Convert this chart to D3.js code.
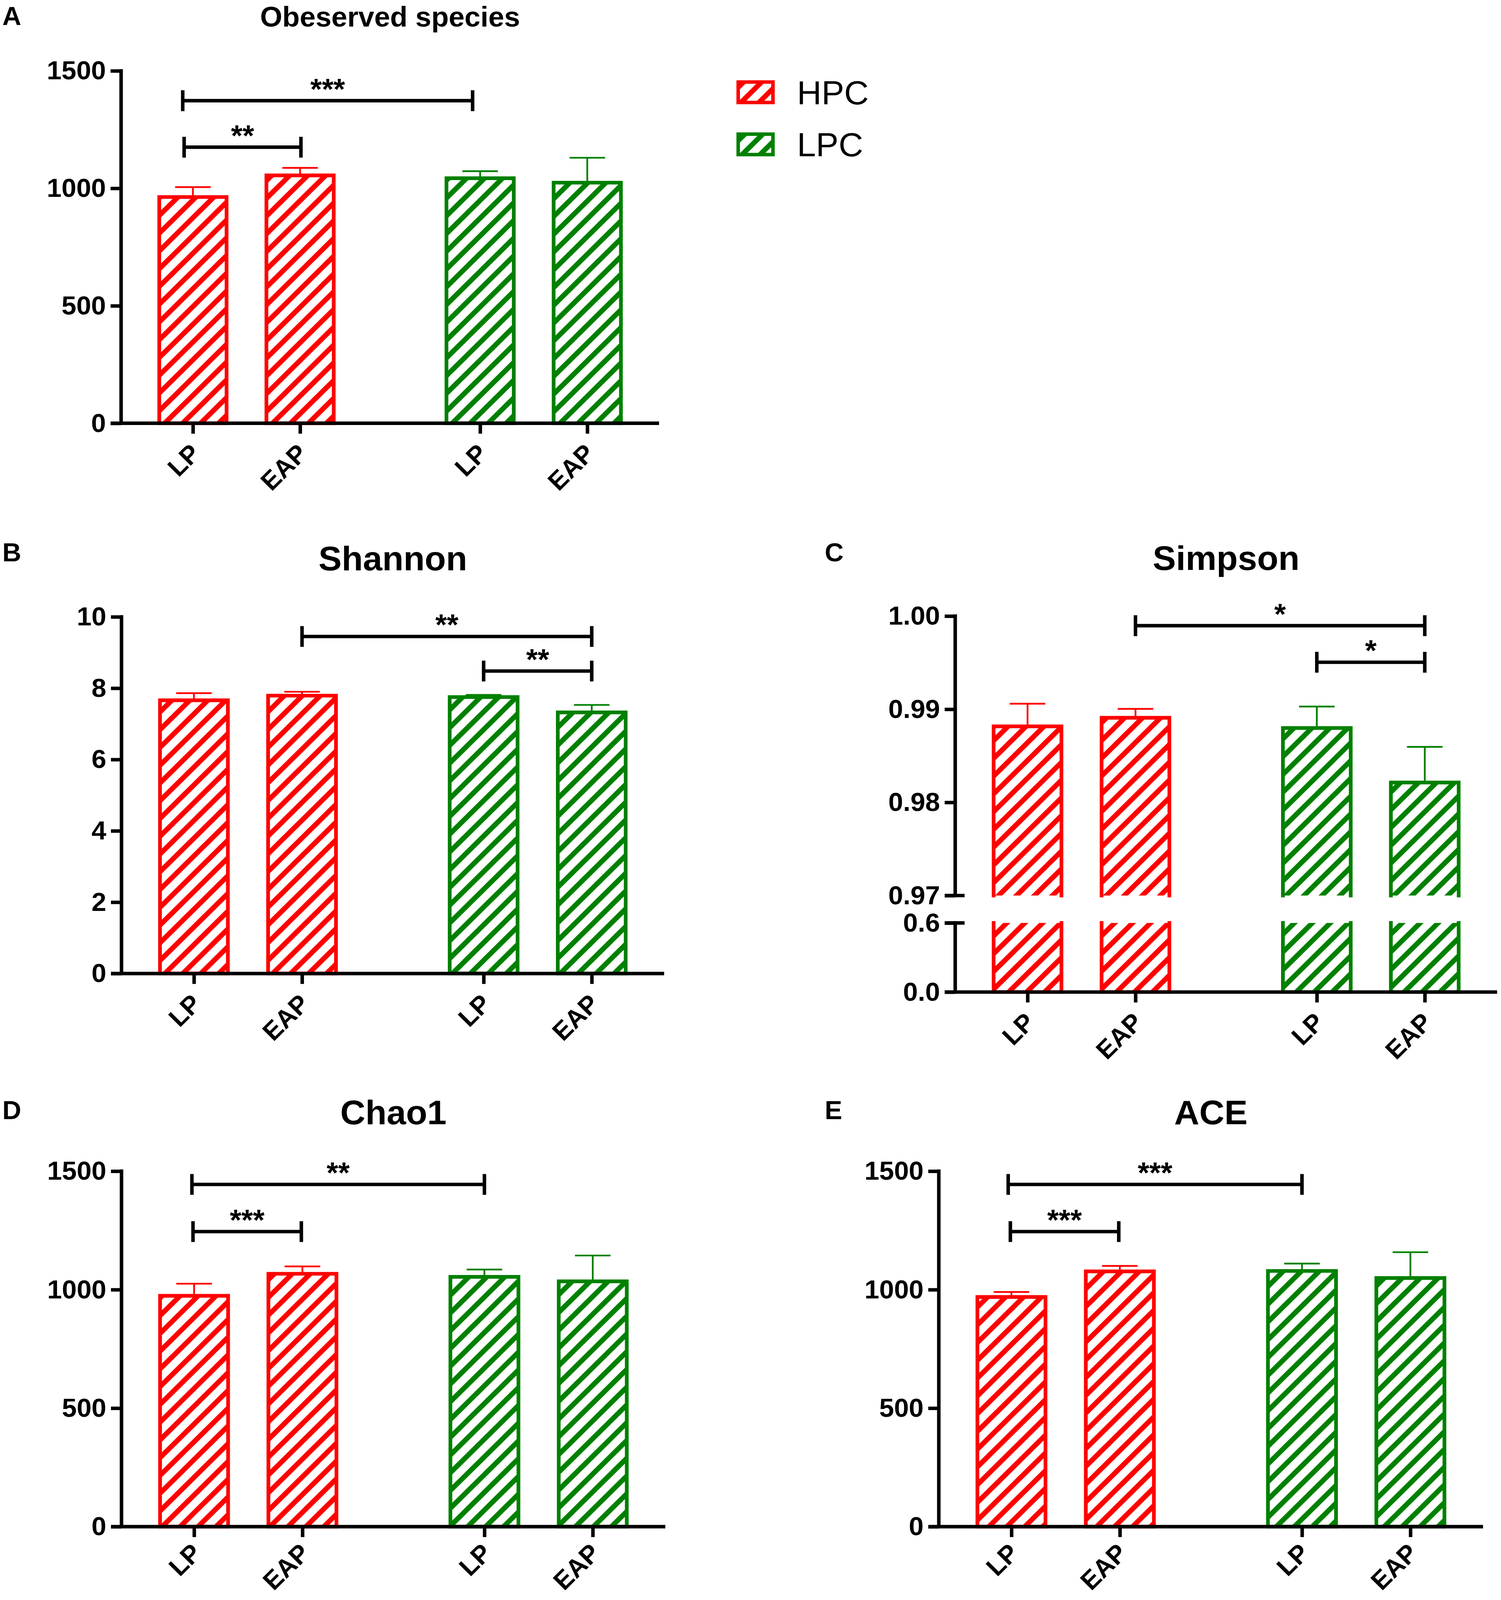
<!DOCTYPE html>
<html>
<head>
<meta charset="utf-8">
<script src="https://cdn.jsdelivr.net/npm/d3@7/dist/d3.min.js"></script>
<style>
html, body { margin: 0; padding: 0; background: #fff; overflow: hidden; }
svg { display: block; width: 100vw; height: 100vh; }
text { font-family: "Liberation Sans", Arial, sans-serif; }
</style>
</head>
<body>
<script>
// ---- data ----
var groups = ["HPC", "LPC"];
var xLabels = ["LP", "EAP", "LP", "EAP"];
var barGroup = [0, 0, 1, 1];
// bar positions along the x axis (category units)
var slots = [0, 1, 2.68, 3.68];

var observedMean = [963, 1055, 1043, 1024];
var observedErr = [42, 32, 30, 106];
var observedTicks = [0, 500, 1000, 1500];
// [from, to (x in category units), y value, label]
var observedSig = [[-0.095, 2.61, 1373, "***"], [-0.082, 1.008, 1175, "**"]];

var shannonMean = [7.66, 7.79, 7.75, 7.32];
var shannonErr = [0.20, 0.11, 0.06, 0.21];
var shannonTicks = [0, 2, 4, 6, 8, 10];
var shannonSig = [[1, 3.68, 9.45, "**"], [2.68, 3.68, 8.48, "**"]];

var simpsonMean = [0.98816, 0.98908, 0.98798, 0.98213];
var simpsonErr = [0.00243, 0.00096, 0.00231, 0.00383];
var simpsonTicksHigh = [0.97, 0.98, 0.99, 1.00];
var simpsonTicksLow = [0, 0.6];
var simpsonSig = [[1, 3.68, 0.99897, "*"], [2.68, 3.68, 0.99504, "*"]];

var chaoMean = [974, 1067, 1054, 1035];
var chaoErr = [51, 31, 31, 109];
var chaoTicks = [0, 500, 1000, 1500];
var chaoSig = [[-0.02, 2.68, 1444, "**"], [-0.01, 0.99, 1245, "***"]];

var aceMean = [969, 1077, 1079, 1049];
var aceErr = [21, 23, 31, 109];
var aceTicks = [0, 500, 1000, 1500];
var aceSig = [[-0.03, 2.68, 1444, "***"], [-0.01, 0.99, 1245, "***"]];

// ---- drawing ----
var colors = ["#ff0000", "#008000"];
var FONT = '"Liberation Sans", Arial, sans-serif';

// fit the whole figure to the visible window
var svg = d3.select("body").append("svg")
    .attr("viewBox", "0 0 3842 4145")
    .attr("preserveAspectRatio", "none");

svg.append("rect").attr("width", 3842).attr("height", 4145).attr("fill", "#fff");

var defs = svg.append("defs");
colors.forEach(function (c, i) {
    var pat = defs.append("pattern")
        .attr("id", "hatch" + i)
        .attr("patternUnits", "userSpaceOnUse")
        .attr("width", 46)
        .attr("height", 46);
    pat.append("rect").attr("width", 46).attr("height", 46).attr("fill", "#fff");
    pat.append("path")
        .attr("d", "M-12,12L12,-12M0,46L46,0M34,58L58,34")
        .attr("stroke", c)
        .attr("stroke-width", 13);
});

function fmtTicks(d) {
    return d;
}

function drawPanel(p) {
    var g = svg.append("g");
    var x = d3.scaleLinear().domain([-0.67, 4.35]).range([p.x0, p.x1]);
    var bw = (x(1) - x(0)) * 0.628;
    var segs = p.segs;
    var top = segs[0].y;
    var bottom = segs[segs.length - 1].y;
    var broken = segs.length > 1;

    // bars
    segs.forEach(function (s) {
        var lo = s.y.domain()[0], hi = s.y.domain()[1];
        p.mean.forEach(function (m, i) {
            var cx = x(slots[i]);
            var c = colors[barGroup[i]];
            var v = Math.min(m, hi);
            var yT = s.y(v), yB = s.y(lo);
            var x0 = cx - bw / 2, x1 = cx + bw / 2;
            g.append("rect")
                .attr("x", x0).attr("y", yT)
                .attr("width", bw).attr("height", yB - yT)
                .attr("fill", "url(#hatch" + barGroup[i] + ")");
            var d = "M" + x0 + "," + yB + "V" + yT;
            if (m <= hi) d += "H" + x1; else d += "M" + x1 + "," + yT;
            d += "V" + yB;
            if (lo === 0) d += "H" + x0;
            g.append("path").attr("d", d)
                .attr("fill", "none")
                .attr("stroke", c)
                .attr("stroke-width", 9.5)
                .attr("stroke-linecap", "square");
        });
    });

    // error bars (upper only)
    p.mean.forEach(function (m, i) {
        var cx = x(slots[i]);
        var c = colors[barGroup[i]];
        var ye = top(m + p.err[i]);
        g.append("line")
            .attr("x1", cx).attr("x2", cx)
            .attr("y1", top(m)).attr("y2", ye)
            .attr("stroke", c).attr("stroke-width", 4.5);
        g.append("line")
            .attr("x1", cx - 45.5).attr("x2", cx + 45.5)
            .attr("y1", ye).attr("y2", ye)
            .attr("stroke", c).attr("stroke-width", 4.5);
    });

    // y axis segments
    segs.forEach(function (s, si) {
        var lo = s.y.domain()[0], hi = s.y.domain()[1];
        g.append("line")
            .attr("x1", p.x0).attr("x2", p.x0)
            .attr("y1", s.y(hi) - 4.5).attr("y2", s.y(lo))
            .attr("stroke", "#000").attr("stroke-width", 9);
        var ax = g.append("g")
            .attr("transform", "translate(" + p.x0 + ",0)")
            .call(d3.axisLeft(s.y)
                .tickValues(s.ticks)
                .tickSize(27)
                .tickPadding(12)
                .tickFormat(s.fmt || fmtTicks));
        ax.select(".domain").remove();
        ax.selectAll(".tick line").attr("stroke", "#000").attr("stroke-width", 9);
        ax.selectAll(".tick text")
            .attr("fill", "#000")
            .attr("font-family", FONT)
            .attr("font-weight", "bold")
            .attr("font-size", 68);
        if (broken) {
            var yb = si === 0 ? s.y(lo) : s.y(hi);
            g.append("line")
                .attr("x1", p.x0 - 27).attr("x2", p.x0 + 24)
                .attr("y1", yb).attr("y2", yb)
                .attr("stroke", "#000").attr("stroke-width", 9);
        }
    });

    // x axis
    var y0 = bottom(0);
    g.append("line")
        .attr("x1", p.x0 - 27).attr("x2", p.x1)
        .attr("y1", y0).attr("y2", y0)
        .attr("stroke", "#000").attr("stroke-width", 9);
    var xa = g.append("g")
        .attr("transform", "translate(0," + y0 + ")")
        .call(d3.axisBottom(x)
            .tickValues(slots)
            .tickSize(27)
            .tickFormat(function (d, i) { return xLabels[i]; }));
    xa.select(".domain").remove();
    xa.selectAll(".tick line").attr("stroke", "#000").attr("stroke-width", 9);
    xa.selectAll(".tick text")
        .attr("fill", "#000")
        .attr("font-family", FONT)
        .attr("font-weight", "bold")
        .attr("font-size", 66)
        .attr("text-anchor", "end")
        .attr("dy", null)
        .attr("y", null)
        .attr("transform", "translate(22," + p.lab + ") rotate(-45)");

    // significance brackets
    p.sig.forEach(function (s) {
        var xa0 = x(s[0]), xa1 = x(s[1]);
        var yy = top(s[2]);
        g.append("path")
            .attr("d", "M" + xa0 + "," + (yy - 27) + "V" + (yy + 27) +
                "M" + xa0 + "," + yy + "H" + xa1 +
                "M" + xa1 + "," + (yy - 27) + "V" + (yy + 27))
            .attr("fill", "none")
            .attr("stroke", "#000")
            .attr("stroke-width", 9);
        g.append("text")
            .attr("x", (xa0 + xa1) / 2)
            .attr("y", yy - 4)
            .attr("text-anchor", "middle")
            .attr("font-weight", "bold")
            .attr("font-size", 76)
            .text(s[3]);
    });

    // panel letter and title
    g.append("text")
        .attr("x", 6 + p.lx).attr("y", p.ly)
        .attr("font-weight", "bold")
        .attr("font-size", 67)
        .text(p.letter);
    g.append("text")
        .attr("x", (p.x0 + p.x1) / 2).attr("y", p.ty)
        .attr("text-anchor", "middle")
        .attr("font-weight", "bold")
        .attr("font-size", p.tsize)
        .text(p.title);
}

drawPanel({
    letter: "A", title: "Obeserved species", lx: 0, ly: 65, ty: 69, tsize: 73, lab: 82,
    x0: 310, x1: 1687,
    segs: [{ y: d3.scaleLinear().domain([0, 1500]).range([1096.5, 183.5]), ticks: observedTicks }],
    mean: observedMean, err: observedErr, sig: observedSig
});

drawPanel({
    letter: "B", title: "Shannon", lx: 0, ly: 1454, ty: 1477, tsize: 89, lab: 82,
    x0: 311, x1: 1700,
    segs: [{ y: d3.scaleLinear().domain([0, 10]).range([2522, 1598]), ticks: shannonTicks }],
    mean: shannonMean, err: shannonErr, sig: shannonSig
});

drawPanel({
    letter: "C", title: "Simpson", lx: 2105, ly: 1454, ty: 1476, tsize: 89, lab: 82,
    x0: 2445, x1: 3832,
    segs: [
        { y: d3.scaleLinear().domain([0.97, 1.00]).range([2320, 1596]), ticks: simpsonTicksHigh, fmt: d3.format(".2f") },
        { y: d3.scaleLinear().domain([0, 0.6]).range([2570, 2391]), ticks: simpsonTicksLow, fmt: d3.format(".1f") }
    ],
    mean: simpsonMean, err: simpsonErr, sig: simpsonSig
});

drawPanel({
    letter: "D", title: "Chao1", lx: 0, ly: 2899, ty: 2912, tsize: 89, lab: 72,
    x0: 311, x1: 1703,
    segs: [{ y: d3.scaleLinear().domain([0, 1500]).range([3955, 3034]), ticks: chaoTicks }],
    mean: chaoMean, err: chaoErr, sig: chaoSig
});

drawPanel({
    letter: "E", title: "ACE", lx: 2105, ly: 2899, ty: 2912, tsize: 89, lab: 72,
    x0: 2403, x1: 3796,
    segs: [{ y: d3.scaleLinear().domain([0, 1500]).range([3955, 3034]), ticks: aceTicks }],
    mean: aceMean, err: aceErr, sig: aceSig
});

// legend
var legend = svg.append("g");
groups.forEach(function (name, i) {
    var yTop = 208 + i * 135;
    legend.append("rect")
        .attr("x", 1889.5).attr("y", yTop + 4.5)
        .attr("width", 89).attr("height", 53)
        .attr("fill", "url(#hatch" + i + ")")
        .attr("stroke", colors[i])
        .attr("stroke-width", 9);
    legend.append("text")
        .attr("x", 2040).attr("y", yTop + 62)
        .attr("font-size", 87)
        .text(name);
});
</script>
</body>
</html>
